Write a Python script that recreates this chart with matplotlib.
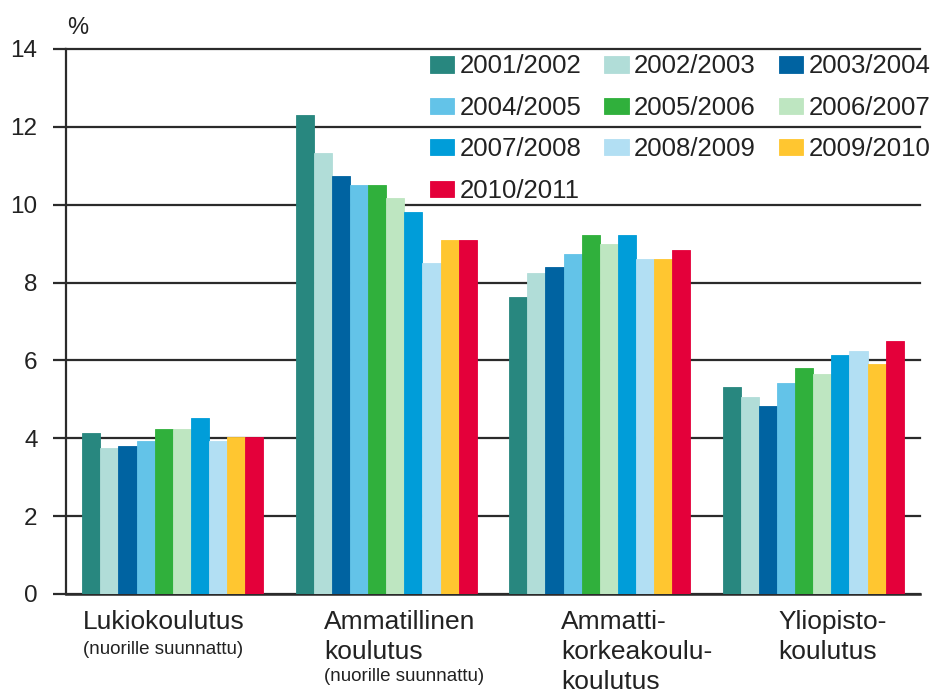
import numpy as np
import matplotlib
matplotlib.use("Agg")
import matplotlib.pyplot as plt
from matplotlib.transforms import blended_transform_factory

plt.rcParams['font.family'] = ['Liberation Sans', 'DejaVu Sans']

# lukuvuodet (sarjat)
years = ['2001/2002', '2002/2003', '2003/2004', '2004/2005', '2005/2006',
         '2006/2007', '2007/2008', '2008/2009', '2009/2010', '2010/2011']

# koulutussektorit
sectors = ['Lukiokoulutus', 'Ammatillinen\nkoulutus',
           'Ammatti-\nkorkeakoulu-\nkoulutus', 'Yliopisto-\nkoulutus']
sector_notes = ['(nuorille suunnattu)', '(nuorille suunnattu)', '', '']

# osuudet (%) vuosittain, yksi lista per sektori
lukio = [4.13, 3.75, 3.81, 3.92, 4.23, 4.23, 4.51, 3.92, 4.02, 4.02]
ammatillinen = [12.30, 11.33, 10.73, 10.51, 10.51, 10.18, 9.80, 8.50, 9.09, 9.09]
amk = [7.63, 8.24, 8.40, 8.73, 9.21, 9.00, 9.21, 8.61, 8.61, 8.83]
yliopisto = [5.31, 5.05, 4.83, 5.43, 5.80, 5.65, 6.13, 6.23, 5.92, 6.50]

colors = ['#28877f', '#b1ddd8', '#0063a1', '#63c3e8', '#30b03c',
          '#bee6c1', '#009dd9', '#b2dff3', '#ffc630', '#e4003a']

values = np.array([lukio, ammatillinen, amk, yliopisto])  # sektori x vuosi

fig = plt.figure(figsize=(9.34, 6.93), dpi=100)
ax = fig.add_axes([0.0707, 0.1429, 0.9143, 0.7864])

n = len(years)
bw = 0.0848
x = np.arange(len(sectors))

handles = []
for i in range(n):
    b = ax.bar(x + (i - (n - 1) / 2) * bw, values[:, i], width=bw,
               color=colors[i], edgecolor=colors[i], linewidth=0.6,
               label=years[i], zorder=3)
    handles.append(b)

ax.set_xlim(-0.5, 3.5)
ax.set_ylim(0, 14)
ax.set_yticks(np.arange(0, 15, 2))
ax.yaxis.grid(True, color='#2b2b2b', linewidth=1.6, zorder=0)
ax.set_axisbelow(True)
for gl in ax.get_ygridlines():
    gl.set_clip_on(False)

for s in ['top', 'right']:
    ax.spines[s].set_visible(False)
ax.spines['left'].set_color('#2b2b2b')
ax.spines['left'].set_linewidth(1.6)
ax.spines['bottom'].set_color('#2b2b2b')
ax.spines['bottom'].set_linewidth(1.8)

ax.tick_params(axis='y', length=9.5, width=1.6, color='#2b2b2b',
               labelsize=17.5, pad=11, labelcolor='#222222')
ax.tick_params(axis='x', length=0, labelbottom=False)

# x-akselin nimet
trans = blended_transform_factory(ax.transData, ax.transAxes)
label_x = [-0.42, -0.29, -0.18, -0.165]
for k in range(len(sectors)):
    ax.text(x[k] + label_x[k], -0.029, sectors[k], transform=trans,
            ha='left', va='top', fontsize=19, color='#222222',
            linespacing=1.33)
    if sector_notes[k]:
        nlines = sectors[k].count('\n') + 1
        ax.text(x[k] + label_x[k], -0.038 - 0.049 * nlines, sector_notes[k],
                transform=trans, ha='left', va='top', fontsize=13.5,
                color='#222222')

fig.text(78 / 934, 1 - 28 / 693, '%', ha='center', va='center',
         fontsize=17, color='#222222')

# selite rivijärjestyksessä
order = [0, 3, 6, 9, 1, 4, 7, 2, 5, 8]
leg = ax.legend([handles[i] for i in order], [years[i] for i in order],
                ncol=3, loc='upper right', bbox_to_anchor=(1.012, 0.99),
                frameon=False, fontsize=18.5, handlelength=0.95,
                handleheight=0.6, handletextpad=0.2, columnspacing=0.9,
                labelspacing=0.68, borderpad=0, borderaxespad=0)
for t in leg.get_texts():
    t.set_color('#222222')

fig.savefig('out.png', dpi=100)
